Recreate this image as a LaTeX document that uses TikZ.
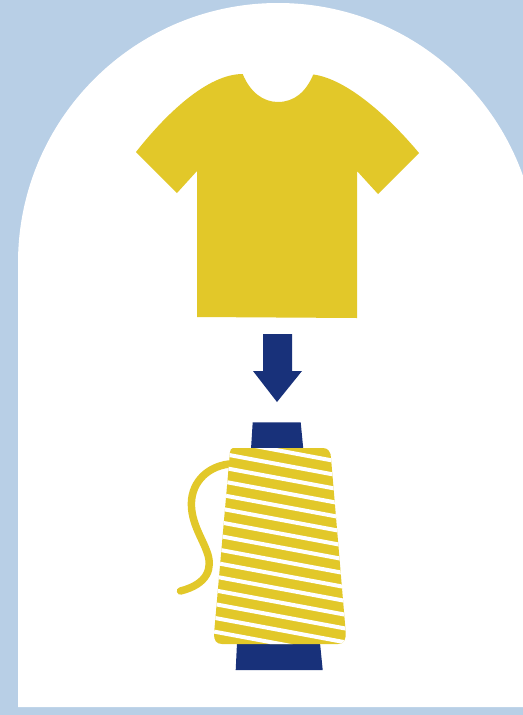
\documentclass[tikz,border=0pt]{standalone}
\definecolor{bgblue}{HTML}{B8CFE6}
\definecolor{shirty}{HTML}{E2C829}
\definecolor{navy}{HTML}{18317A}
\tikzset{yellowfill/.style={fill=shirty,draw=none},navyfill/.style={fill=navy,draw=none},
gapline/.style={draw=white,line width=3pt}}
\begin{document}
\begin{tikzpicture}[x=0.75pt,y=-0.75pt]
\useasboundingbox (0,0) rectangle (523,715);
\fill[bgblue] (0,0) rectangle (523,715);
\begin{scope}
\clip (0,0) rectangle (523,707);
\fill[white] (18,707) -- (18,263) arc[start angle=180,end angle=0,x radius=260,y radius=-260] -- (538,707) -- cycle;
\end{scope}
% shirt
\fill[yellowfill] (242.7,74) .. controls (250,92) and (263,102) .. (278,102)
 .. controls (294,102) and (306,92) .. (313.3,74.5)
 .. controls (347,79) and (389,117) .. (419,153)
 -- (378,194) -- (357,171) -- (357,318) -- (197,317) -- (197,171) -- (177,193) -- (136,152)
 .. controls (165,115) and (207,74) .. (242.7,74) -- cycle;
% arrow
\fill[navyfill] (263,334) -- (292,334) -- (292,371) -- (302,371) -- (277,402) -- (253,371) -- (263,371) -- cycle;
% spool
\fill[navyfill] (252.7,422.3) -- (300.7,422.3) -- (303.3,449) -- (251,449) -- cycle;
\fill[navyfill] (237,643) -- (320,643) -- (322.7,670) -- (235.7,670) -- cycle;
% thread
\draw[shirty,line width=5.6pt,line cap=round] (229,464) .. controls (205,467) and (190,485) .. (191.5,507)
 .. controls (192.5,525) and (203,540) .. (207,552) .. controls (213,568) and (208,584) .. (180.5,591);
% cone
\begin{scope}
\clip (233,448) -- (323,448) .. controls (328,448) and (331,452) .. (331,458) -- (345.7,632) .. controls (346,640) and (344,644) .. (338,644)
 -- (222,644) .. controls (216,644) and (214,640) .. (214,634) -- (230,452) .. controls (230.5,450) and (231,448) .. (233,448) -- cycle;
\fill[shirty] (200,440) rectangle (360,650);
\foreach \i in {-1,...,13} {
 \draw[gapline] (205,{450.5+13.8*\i}) -- (355,{478.5+13.8*\i});
}
\end{scope}
\end{tikzpicture}
\end{document}
